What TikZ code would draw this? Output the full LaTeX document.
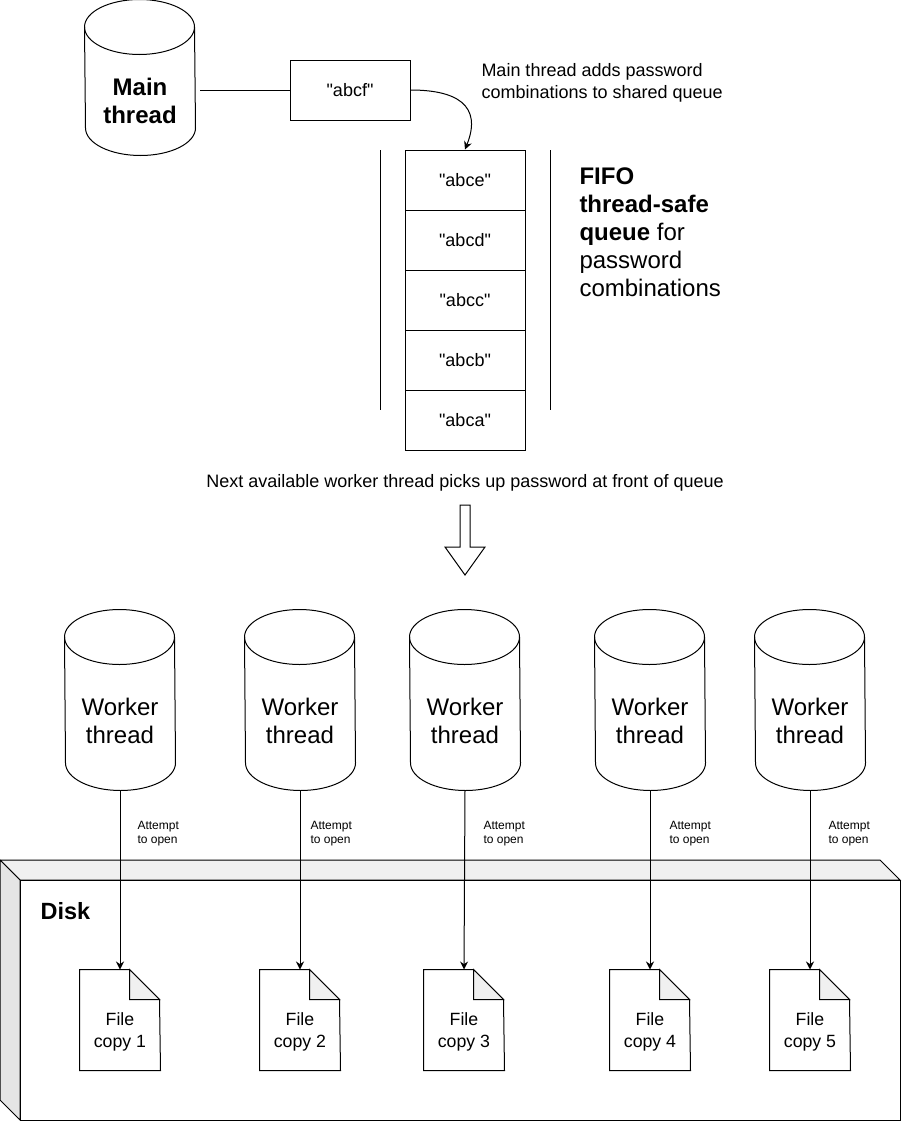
\documentclass[tikz,border=0pt]{standalone}
\usepackage{fontspec}
\setmainfont{Liberation Sans}[Ligatures=TeXOff]
\usetikzlibrary{arrows.meta}
\tikzset{
  thin line/.style={line width=.75pt},
  thread/.style={minimum width=82.5pt,inner sep=0pt},
  cap arc/.style={x radius=41.25pt,y radius=20.625pt},
  threadtext/.style={inner sep=0pt,align=center,font=\fontsize{18}{21}\selectfont},
  cell/.style={thin line,draw,minimum width=90pt,minimum height=45pt,inner sep=0pt,
    font=\fontsize{13.5}{16}\selectfont},
  note/.style={inner sep=0pt,align=left,font=\fontsize{13.5}{16.5}\selectfont},
  filecopy/.style={inner sep=0pt,align=center,font=\fontsize{13.3}{16}\selectfont},
  attempt/.style={inner sep=0pt,align=left,font=\fontsize{9}{10.5}\selectfont},
  tip/.style={-{Stealth[length=6pt,width=6pt]}}
}
% outline of a cylinder round a named node
\newcommand{\threadshape}[1]{
  \draw ([yshift=-20.625pt]#1.north west)
    arc[start angle=180,end angle=0,cap arc] -- ([yshift=20.625pt]#1.south east)
    arc[start angle=360,end angle=180,cap arc] -- cycle;
  \draw ([yshift=-20.625pt]#1.north west) arc[start angle=180,end angle=360,cap arc];
}
\begin{document}
\begin{tikzpicture}[x=.75pt,y=-.75pt,thin line]
  \useasboundingbox (0,0) rectangle (901,1121);
  % disk
  \draw[fill=black!6] (0,860) -- (880,860) -- (900,880) -- (20,880) -- cycle;
  \draw[fill=black!10] (0,860) -- (20,880) -- (20,1120) -- (0,1100) -- cycle;
  \node[draw,thin line,fill=white,minimum width=660pt,minimum height=180pt,inner sep=0pt] (disk) at (460,1000) {};
  \node[inner sep=0pt,font=\fontsize{17.6}{20}\selectfont\bfseries] (disklabel) at (65.5,911) {Disk};
  % main thread
  \node[thread,minimum height=116.25pt] (main) at (140,77.5) {};
  \threadshape{main}
  \node[threadtext] (maintext) at (140,101) {\textbf{Main}\\\textbf{thread}};
  \node[cell] (abcf) at (350,90) {"abcf"};
  \coordinate (start) at (200,90);
  \draw (start) -- (abcf);
  % queue
  \foreach \y/\n in {180/e,240/d,300/c,360/b,420/a}
    \node[cell] (abc\n) at (465,\y) {"abc\n"};
  \draw (380,150) -- (380,410);
  \draw (550,150) -- (550,410);
  \draw[tip] (abcf.east) .. controls +(45,0) and +(18,-45) .. (abce.north);
  \node[note,anchor=west] (addnote) at (481,83) {Main thread adds password\\combinations to shared queue};
  \node[inner sep=0pt,align=left,anchor=north west,font=\fontsize{18}{21}\selectfont] (fifo) at (579,167)
    {\textbf{FIFO}\\\textbf{thread-safe}\\\textbf{queue} for\\password\\combinations};
  \node[note] (nextnote) at (465,483) {Next available worker thread picks up password at front of queue};
  \draw[fill=white] (460,505) -- (470,505) -- (470,547) -- (485,547) -- (465,575) -- (445,547) -- (460,547) -- cycle;
  % worker threads and files
  \foreach \n/\x/\fx/\lx in {1/120/120/137,2/300/300/310,3/465/464/483,4/650/650/669,5/810/810/828}{
    \node[thread,minimum height=135pt] (worker\n) at (\x,700) {};
    \threadshape{worker\n}
    \node[threadtext] (workertext\n) at (\x,721) {Worker\\thread};
    \node[minimum width=60pt,minimum height=75pt,inner sep=0pt] (file\n) at (\fx,1020) {};
    \draw[fill=white] (file\n.north west) -- ++(50,0) -- ++(30,30) -- (file\n.south east) -- (file\n.south west) -- cycle;
    \draw[fill=black!6] (file\n.north west) ++(50,0) -- ++(30,30) -- ++(-30,0) -- cycle;
    \node[filecopy] (filetext\n) at (\fx,1032) {File\\copy \n};
    \draw[tip] (worker\n.south) -- (file\n.north);
    \node[attempt,anchor=west] (attempt\n) at (\lx,834) {Attempt\\to open};
  }
\end{tikzpicture}
\end{document}
